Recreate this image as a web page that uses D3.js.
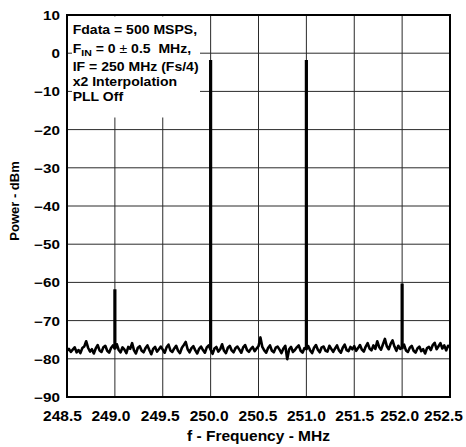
<!DOCTYPE html>
<html>
<head>
<meta charset="utf-8">
<script src="https://cdn.jsdelivr.net/npm/d3@7"></script>
<style>
  html, body { margin: 0; padding: 0; background: #fff; }
  svg { display: block; font-family: 'Liberation Sans', Arial, sans-serif; font-weight: bold; }
</style>
</head>
<body>
<article></article>
<script>
// Data
const FREQ_START = 248.5;
const FREQ_STEP = 0.02;
// noise floor, one value per 20 kHz bin, 248.5 .. 252.5 MHz
const noiseDbm = [
  -77.9, -77.4, -78.2, -77.6, -77.0, -78.3, -77.7, -78.5, -77.2, -76.8,
  -75.4, -77.1, -78.1, -77.5, -78.6, -77.3, -76.4, -77.8, -78.2, -77.0,
  -76.6, -77.9, -78.4, -77.2, -76.5, -77.3, -76.2, -77.7, -78.3, -77.0,
  -77.6, -78.5, -76.9, -77.4, -75.9, -77.8, -78.6, -77.1, -76.7, -77.9,
  -78.3, -77.2, -76.5, -77.7, -78.8, -77.4, -76.9, -78.1, -77.5, -76.8,
  -77.6, -78.4, -77.0, -76.3, -77.8, -78.2, -77.3, -76.6, -77.9, -78.5,
  -77.1, -76.4, -75.6, -77.5, -78.3, -77.2, -76.7, -77.8, -78.6, -77.4,
  -76.8, -77.7, -78.4, -77.0, -76.5, -77.6, -78.7, -77.3, -76.9, -78.1,
  -77.5, -76.2, -77.9, -78.5, -77.1, -76.6, -77.8, -78.3, -77.2, -76.8,
  -77.6, -78.4, -77.0, -76.4, -77.7, -78.2, -77.4, -76.9, -78.0, -77.3,
  -76.7, -74.4, -76.9, -77.8, -78.4, -77.2, -76.5, -77.9, -78.3, -77.1,
  -76.8, -77.6, -78.5, -77.3, -76.6, -80.1, -77.5, -76.9, -78.2, -77.7,
  -77.0, -76.5, -77.9, -78.4, -77.2, -77.5, -76.7, -77.8, -78.5, -77.1,
  -76.4, -77.6, -78.3, -77.0, -76.8, -77.9, -78.1, -76.6, -77.4, -78.2,
  -77.3, -76.5, -77.8, -78.4, -77.1, -76.3, -77.7, -78.0, -76.9, -77.5,
  -76.7, -77.9, -77.2, -76.4, -77.6, -78.1, -76.8, -75.9, -77.3, -77.8,
  -76.5, -77.4, -75.4, -76.9, -77.6, -76.2, -74.8, -76.7, -77.5, -76.1,
  -75.2, -76.8, -77.9, -76.6, -77.4, -77.0, -76.3, -77.8, -78.2, -77.1,
  -76.6, -77.9, -78.4, -77.3, -76.8, -78.0, -77.5, -78.6, -77.2, -76.9,
  -77.7, -76.4, -75.8, -77.5, -76.7, -75.9, -77.3, -76.5, -77.8, -76.6,
  -76.9
];
// carrier images and spurs
const toneFreqs = [249.0, 250.0, 251.0, 252.0];
const toneDbm = [-61.8, -1.8, -1.8, -60.3];
const xTicks = [248.5, 249.0, 249.5, 250.0, 250.5, 251.0, 251.5, 252.0, 252.5];
const yTicks = [10, 0, -10, -20, -30, -40, -50, -60, -70, -80, -90];
const noteLines = [
  'Fdata = 500 MSPS,',
  null, // F_IN line, built with a subscript below
  'IF = 250 MHz (Fs/4)',
  'x2 Interpolation',
  'PLL Off'
];

(() => {
  window.addEventListener('DOMContentLoaded', () => {
    // Constants
    const WIDTH = 466;
    const HEIGHT = 447;
    const margin = { top: 15, right: 16, bottom: 50, left: 67 };
    const innerW = WIDTH - margin.left - margin.right;
    const innerH = HEIGHT - margin.top - margin.bottom;

    const series = noiseDbm.map((p, i) => ({ f: FREQ_START + i * FREQ_STEP, p }));
    const tones = toneFreqs.map((f, i) => ({ f, p: toneDbm[i] }));

    const x = d3.scaleLinear().domain([248.5, 252.5]).range([0, innerW]);
    const y = d3.scaleLinear().domain([-90, 10]).range([innerH, 0]);

    const svg = d3
      .select('article')
      .append('svg')
      .attr('width', WIDTH)
      .attr('height', HEIGHT)
      .attr('viewBox', `0 0 ${WIDTH} ${HEIGHT}`);

    const g = svg
      .append('g')
      .attr('transform', `translate(${margin.left},${margin.top})`);

    // grid
    g.append('g')
      .selectAll('line')
      .data(xTicks)
      .join('line')
      .attr('x1', (d) => x(d))
      .attr('x2', (d) => x(d))
      .attr('y1', 0)
      .attr('y2', innerH)
      .attr('stroke', '#2a2a2a')
      .attr('stroke-width', 1);

    g.append('g')
      .selectAll('line')
      .data(yTicks)
      .join('line')
      .attr('x1', 0)
      .attr('x2', innerW)
      .attr('y1', (d) => y(d))
      .attr('y2', (d) => y(d))
      .attr('stroke', '#2a2a2a')
      .attr('stroke-width', 1);

    // white box behind the notes
    g.append('rect')
      .attr('x', 5)
      .attr('y', 1.5)
      .attr('width', 128)
      .attr('height', 101)
      .attr('fill', '#fff');

    // noise floor
    const line = d3
      .line()
      .x((d) => x(d.f))
      .y((d) => y(d.p));

    g.append('path')
      .datum(series)
      .attr('fill', 'none')
      .attr('stroke', '#000')
      .attr('stroke-width', 2.6)
      .attr('stroke-linejoin', 'round')
      .attr('d', line);

    // tones as narrow stems up from the floor
    g.append('g')
      .selectAll('line')
      .data(tones)
      .join('line')
      .attr('x1', (d) => x(d.f))
      .attr('x2', (d) => x(d.f))
      .attr('y1', y(-77.5))
      .attr('y2', (d) => y(d.p))
      .attr('stroke', '#000')
      .attr('stroke-width', 3.2);

    // frame
    g.append('rect')
      .attr('width', innerW)
      .attr('height', innerH)
      .attr('fill', 'none')
      .attr('stroke', '#000')
      .attr('stroke-width', 2);

    // x axis labels (spread a little wider than the grid, last ones squeezed in)
    const labelShift = [-5, -4.5, -3, -2, -1, -0.5, 0, -3, -7];
    const xAxis = g
      .append('g')
      .attr('transform', `translate(0,${innerH})`)
      .call(d3.axisBottom(x).tickValues(xTicks).tickFormat(d3.format('.1f')).tickSize(0));
    xAxis.select('.domain').remove();
    xAxis
      .selectAll('text')
      .attr('y', 0)
      .attr('dy', 24)
      .attr('dx', (d, i) => labelShift[i])
      .attr('fill', '#000')
      .style('font-size', '15.5px')
      .style('font-family', "'Liberation Sans', Arial, sans-serif")
      .style('font-weight', 'bold');

    // y axis labels (the original type is wide, so stretch it)
    const stretch = 1.27;
    const yAxis = g
      .append('g')
      .call(d3.axisLeft(y).tickValues(yTicks).tickSize(0));
    yAxis.select('.domain').remove();
    yAxis
      .selectAll('text')
      .attr('x', -7 / stretch)
      .attr('dy', '0.38em')
      .attr('transform', `scale(${stretch},1)`)
      .attr('fill', '#000')
      .style('font-size', '12px')
      .style('font-family', "'Liberation Sans', Arial, sans-serif")
      .style('font-weight', 'bold');

    // axis titles
    svg
      .append('text')
      .attr('x', 258.5)
      .attr('y', 441)
      .attr('text-anchor', 'middle')
      .style('font-size', '15.5px')
      .text('f - Frequency - MHz');

    svg
      .append('text')
      .attr('transform', 'translate(18.5,201) rotate(-90)')
      .attr('text-anchor', 'middle')
      .style('font-size', '13px')
      .text('Power - dBm');

    // notes
    const noteStretch = 1.17;
    const baselines = [34.3, 53.3, 71, 85.7, 100.7];
    const notes = svg.append('g').style('font-size', '12px');
    noteLines.forEach((txt, i) => {
      const t = notes
        .append('text')
        .attr('transform', `translate(72.7,${baselines[i]}) scale(${noteStretch},1)`);
      if (txt !== null) {
        t.text(txt);
      } else {
        t.append('tspan').text('F');
        t.append('tspan').attr('dy', 3).style('font-size', '9px').text('IN');
        t.append('tspan').attr('dy', -3).text('\u00a0=\u00a00\u00a0');
        t.append('tspan').style('font-weight', 'normal').text('±');
        t.append('tspan').text('\u00a00.5\u00a0\u00a0MHz,');
      }
    });
  });
})();
</script>
</body>
</html>
